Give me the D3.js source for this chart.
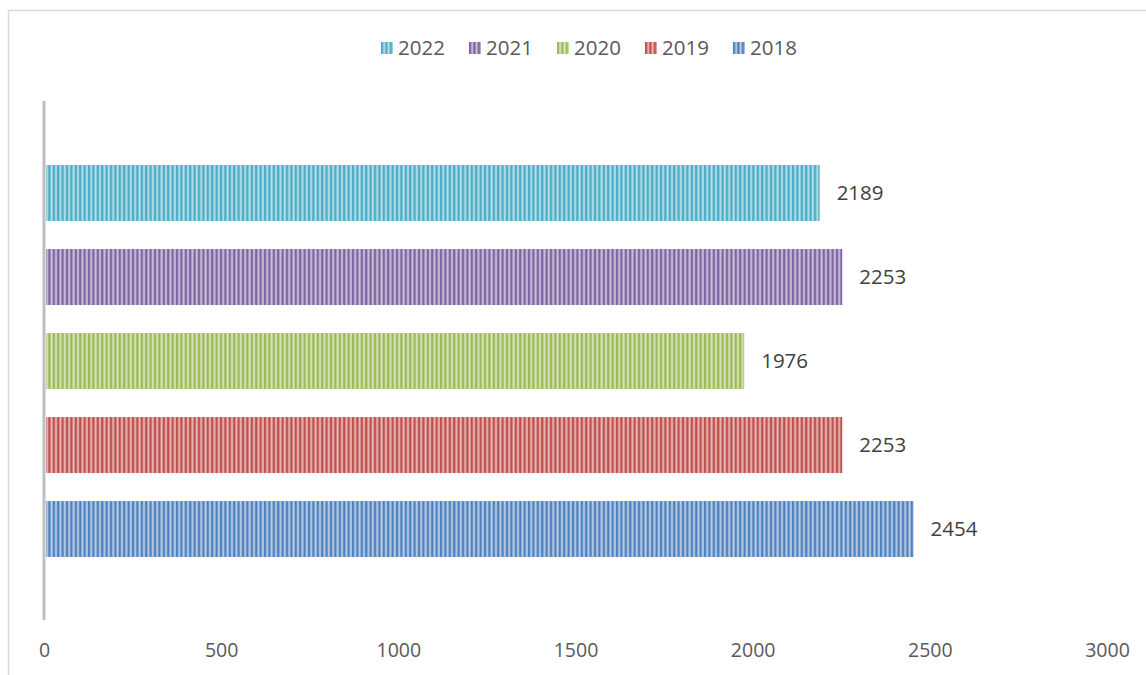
<!DOCTYPE html>
<html>
<head>
<meta charset="utf-8">
<script src="https://cdn.jsdelivr.net/npm/d3@7"></script>
<style>
  body { margin: 0; background: #fff; }
  text { font-family: "Open Sans", "Noto Sans", sans-serif; }
</style>
</head>
<body>
<div id="chart"></div>
<script>
// series shown top to bottom
var years = ["2022", "2021", "2020", "2019", "2018"];
var values = [2189, 2253, 1976, 2253, 2454];
var colors = ["#4bacc6", "#8064a2", "#9bbb59", "#c0504d", "#4f81bd"];
var xTicks = [0, 500, 1000, 1500, 2000, 2500, 3000];

var svgWidth = 1146, svgHeight = 675;

var svg = d3.select("#chart").append("svg")
    .attr("width", svgWidth)
    .attr("height", svgHeight);

// striped patterns, one per series
var defs = svg.append("defs");
years.forEach(function (y, i) {
    var p = defs.append("pattern")
        .attr("id", "stripe" + i)
        .attr("patternUnits", "userSpaceOnUse")
        .attr("width", 4.4)
        .attr("height", 10);
    p.append("rect").attr("width", 4.4).attr("height", 10).attr("fill", colors[i]);
    p.append("rect").attr("x", 2.2).attr("width", 2).attr("height", 10)
        .attr("fill", d3.interpolateRgb(colors[i], "#ffffff")(0.6));
});

// outer chart border
svg.append("rect")
    .attr("x", 8.5).attr("y", 10.5)
    .attr("width", 1160).attr("height", 700)
    .attr("fill", "none")
    .attr("stroke", "#d9d9d9")
    .attr("stroke-width", 1.5);

var x = d3.scaleLinear().domain([0, 3000]).range([44, 1107]);
var y = d3.scaleBand().domain(years).range([165, 557]).paddingInner(1 / 3);

// bars
svg.append("g").selectAll("rect")
    .data(years)
    .enter()
    .append("rect")
    .attr("x", x(0) + 2)
    .attr("y", d => y(d))
    .attr("width", (d, i) => x(values[i]) - x(0) - 2)
    .attr("height", y.bandwidth())
    .attr("fill", (d, i) => "url(#stripe" + i + ")");

// value labels
svg.append("g").selectAll("text")
    .data(years)
    .enter()
    .append("text")
    .attr("x", (d, i) => x(values[i]) + 17)
    .attr("y", d => y(d) + y.bandwidth() / 2)
    .attr("dy", "0.35em")
    .attr("font-size", 20.5)
    .attr("fill", "#404040")
    .text((d, i) => values[i]);

// vertical axis line
svg.append("line")
    .attr("x1", x(0)).attr("x2", x(0))
    .attr("y1", 101).attr("y2", 620)
    .attr("stroke", "#bfbfbf")
    .attr("stroke-width", 3);

// x tick labels
var xAxis = d3.axisBottom(x).tickValues(xTicks).tickFormat(d3.format("d")).tickSize(0).tickPadding(0);
var gx = svg.append("g")
    .attr("transform", "translate(0, 643)")
    .call(xAxis);
gx.select(".domain").remove();
gx.selectAll("text")
    .attr("font-size", 19.5)
    .attr("font-family", null)
    .attr("fill", "#595959");

// legend
var legend = svg.append("g").selectAll("g")
    .data(years)
    .enter()
    .append("g")
    .attr("transform", (d, i) => `translate(${381 + i * 88}, 42)`);
legend.append("rect")
    .attr("width", 12).attr("height", 12)
    .attr("fill", (d, i) => "url(#stripe" + i + ")");
legend.append("text")
    .attr("x", 17).attr("y", 6)
    .attr("dy", "0.35em")
    .attr("font-size", 20.5)
    .attr("fill", "#595959")
    .text(d => d);
</script>
</body>
</html>
